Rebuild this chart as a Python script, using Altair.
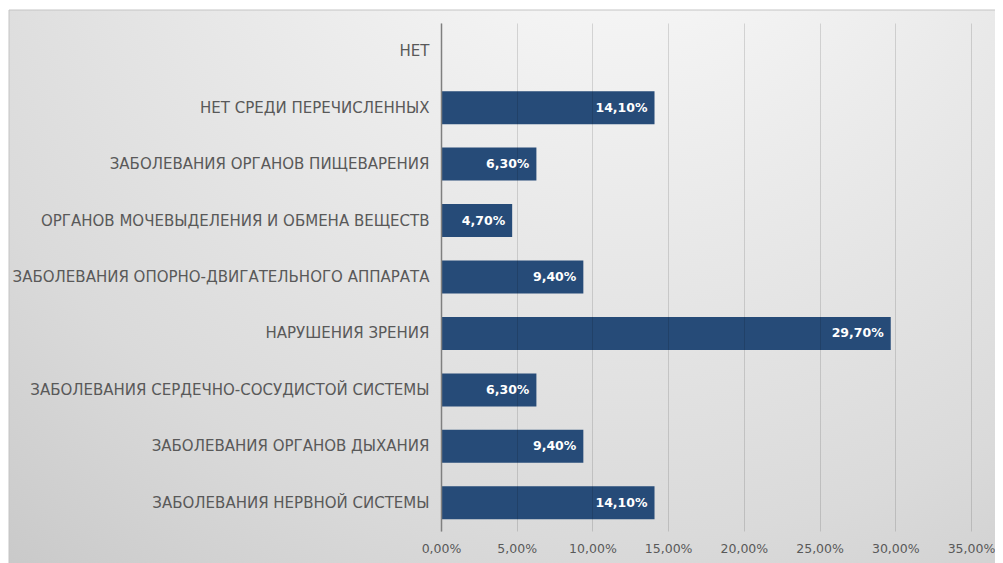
import altair as alt
import pandas as pd

categories = [
    "НЕТ",
    "НЕТ СРЕДИ ПЕРЕЧИСЛЕННЫХ",
    "ЗАБОЛЕВАНИЯ ОРГАНОВ ПИЩЕВАРЕНИЯ",
    "ОРГАНОВ МОЧЕВЫДЕЛЕНИЯ И ОБМЕНА ВЕЩЕСТВ",
    "ЗАБОЛЕВАНИЯ ОПОРНО-ДВИГАТЕЛЬНОГО АППАРАТА",
    "НАРУШЕНИЯ ЗРЕНИЯ",
    "ЗАБОЛЕВАНИЯ СЕРДЕЧНО-СОСУДИСТОЙ СИСТЕМЫ",
    "ЗАБОЛЕВАНИЯ ОРГАНОВ ДЫХАНИЯ",
    "ЗАБОЛЕВАНИЯ НЕРВНОЙ СИСТЕМЫ",
]
values = [0.0, 14.1, 6.3, 4.7, 9.4, 29.7, 6.3, 9.4, 14.1]
x_ticks = [0, 5, 10, 15, 20, 25, 30, 35]

df = pd.DataFrame({"category": categories, "value": values})

W, H = 530, 508
PAD = {"left": 433, "top": 15, "right": 24, "bottom": 32}

bg = alt.Chart(alt.Data(values=[{}])).mark_rect(
    fill={
        "gradient": "radial",
        "x1": 0.62, "y1": 0.0, "r1": 0.0,
        "x2": 0.62, "y2": 0.0, "r2": 1.0,
        "stops": [
            {"offset": 0.0, "color": "#ffffff"},
            {"offset": 0.4, "color": "#ebebeb"},
            {"offset": 0.75, "color": "#dadada"},
            {"offset": 1.0, "color": "#c9c9c9"},
        ],
    },
    stroke="#c4c4c4",
    strokeWidth=1,
).encode(
    x=alt.value(-432), x2=alt.value(W + 30),
    y=alt.value(-13), y2=alt.value(H + 40),
)

y_enc = alt.Y(
    "category:N", sort=categories, title=None,
    scale=alt.Scale(domain=categories, paddingInner=0.415, paddingOuter=0.2075),
    axis=alt.Axis(
        labelFont="DejaVu Sans", labelFontSize=15, labelColor="#595959",
        labelPadding=12, ticks=False, domainColor="#7f7f7f", domainWidth=1.5,
        labelLimit=500, grid=False, zindex=2,
    ),
)
x_enc = alt.X(
    "value:Q", title=None,
    scale=alt.Scale(domain=[0, 35], nice=False),
    axis=alt.Axis(
        values=x_ticks,
        labelExpr="replace(format(datum.value / 100, '.2%'), '.', ',')",
        labelFont="DejaVu Sans", labelFontSize=12.5, labelColor="#595959",
        labelPadding=11, labelFlush=False, labelOverlap=False,
        ticks=False, domain=False,
        grid=True, gridColor="#000000", gridOpacity=0.13, gridWidth=1,
        zindex=1,
    ),
)

bars = alt.Chart(df).transform_filter("datum.value > 0").mark_bar(
    color="#264B78"
).encode(
    x=x_enc, y=y_enc,
)

labels = alt.Chart(df).transform_filter("datum.value > 0").transform_calculate(
    lbl="replace(format(datum.value / 100, '.2%'), '.', ',')"
).mark_text(
    align="right", baseline="middle", dx=-7, color="#ffffff",
    font="DejaVu Sans", fontWeight="bold", fontSize=12.5,
).encode(
    x="value:Q", y=alt.Y("category:N", sort=categories), text="lbl:N",
)

chart = alt.layer(bg, bars, labels).properties(
    width=W, height=H,
    autosize=alt.AutoSizeParams(type="none"),
    padding=PAD,
    background="#ffffff",
).configure_view(stroke=None)

chart.save("out.html", embed_options={"renderer": "svg", "actions": False})
